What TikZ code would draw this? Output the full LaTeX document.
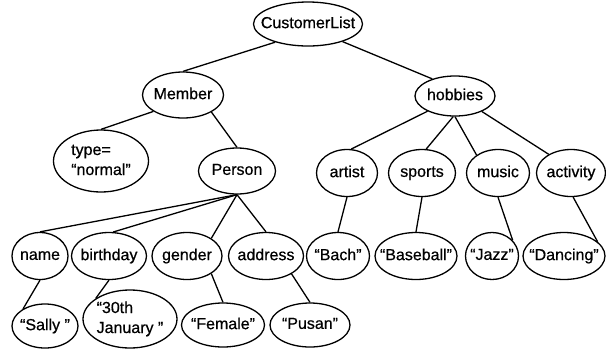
\documentclass[tikz,border=0pt]{standalone}
\usepackage{fontspec}
\setmainfont{Liberation Sans}[FakeBold=0.6]
\newcommand{\nm}[1]{\makebox[0pt]{\vphantom{Ay}#1}}
\newcommand{\nmtwo}[2]{\makebox[0pt]{\begin{tabular}{@{}l@{}}#1\\#2\end{tabular}}}
\usetikzlibrary{shapes.geometric}

\begin{document}
\begin{tikzpicture}[x=1pt,y=-1pt, ent/.style 2 args = {ellipse, draw, minimum width=#1pt, minimum height=#2pt, inner sep=0pt, font=\fontsize{16}{20}\selectfont},
                every path/.style = {line width=1.3pt}]
                \useasboundingbox (0,0) rectangle (606,349);
                \node[ent={109}{44}] (1) at (308,24) {\nm{CustomerList}};
                \node[ent={81}{46}] (2) at (183,95) {\nm{Member}};
                \node[ent={80}{40}] (3) at (455,96) {\nm{hobbies}};
                \node[ent={95}{62}] (4) at (101,161) {\nmtwo{type=}{“normal”}};
                \node[ent={77}{46}] (5) at (237,171) {\nm{Person}};
                \node[ent={61}{47}] (6) at (347,173) {\nm{artist}};
                \node[ent={67}{47}] (7) at (422,173) {\nm{sports}};
                \node[ent={63}{47}] (8) at (498,173) {\nm{music}};
                \node[ent={69}{47}] (9) at (571,173) {\nm{activity}};
                \node[ent={56}{47}] (10) at (40,256) {\nm{name}};
                \node[ent={75}{47}] (11) at (109,256) {\nm{birthday}};
                \node[ent={70}{47}] (12) at (187,256) {\nm{gender}};
                \node[ent={75}{47}] (13) at (266,256) {\nm{address}};
                \node[ent={63}{47}] (14) at (338,256) {\nm{“Bach”}};
                \node[ent={82}{47}] (15) at (416,256) {\nm{“Baseball”}};
                \node[ent={53}{47}] (16) at (492,256) {\nm{“Jazz”}};
                \node[ent={82}{47}] (17) at (564,256) {\nm{“Dancing”}};
                \node[ent={66}{44}] (18) at (45,326) {\nm{“Sally ”}};
                \node[ent={94}{58}] (19) at (130,319) {\nmtwo{“30th}{January ”}};
                \node[ent={83}{44}] (20) at (223,325) {\nm{“Female”}};
                \node[ent={80}{44}] (21) at (310,325) {\nm{“Pusan”}};
                \path
                    (1.209) edge (2.north)
                    (1.333) edge (3.143)
                    (2.209) edge (4.north)
                    (2.329) edge (5.north)
                    (5.south) edge (10.north)
                    (5.south) edge (11.80)
                    (5.south) edge (12.36)
                    (5.south) edge (13.north)
                    (3.209) edge (6.80)
                    (3.265) edge (7.80)
                    (3.south) edge (8.140)
                    (3.330) edge (9.140)
                    (6.south) edge (14.north)
                    (7.south) edge (15.north)
                    (8.south) edge (16.37)
                    (9.275) edge (17.23)
                    (10.south) edge (18.142)
                    (11.south) edge (19.149)
                    (12.324) edge (20.north)
                    (13.325) edge (21.north);
            \end{tikzpicture}
\end{document}
